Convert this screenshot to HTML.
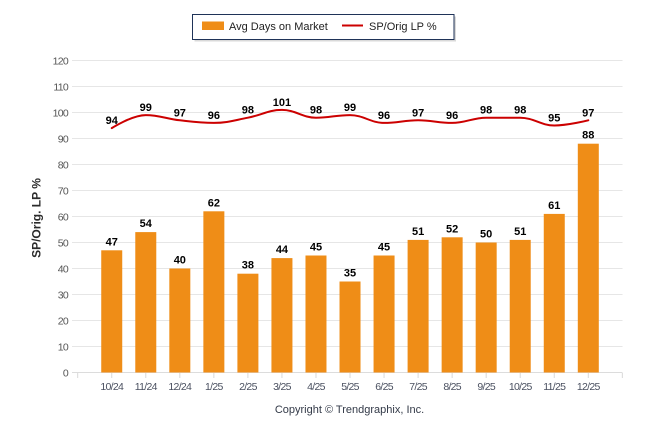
<!DOCTYPE html>
<html>
<head>
<meta charset="utf-8">
<style>
  html, body { margin: 0; padding: 0; background: #ffffff; }
  body { width: 646px; height: 434px; overflow: hidden; }
  svg { display: block; font-family: "Liberation Sans", Arial, sans-serif; }
</style>
</head>
<body>
<svg width="646" height="434" viewBox="0 0 646 434" xmlns="http://www.w3.org/2000/svg">
  <rect x="0" y="0" width="646" height="434" fill="#ffffff"/>

  <!-- Gridlines -->
  <g stroke="#e6e6e6" stroke-width="1">
    <line x1="72" y1="60.5" x2="622.5" y2="60.5"/>
    <line x1="72" y1="86.5" x2="622.5" y2="86.5"/>
    <line x1="72" y1="112.5" x2="622.5" y2="112.5"/>
    <line x1="72" y1="138.5" x2="622.5" y2="138.5"/>
    <line x1="72" y1="164.5" x2="622.5" y2="164.5"/>
    <line x1="72" y1="190.5" x2="622.5" y2="190.5"/>
    <line x1="72" y1="216.5" x2="622.5" y2="216.5"/>
    <line x1="72" y1="242.5" x2="622.5" y2="242.5"/>
    <line x1="72" y1="268.5" x2="622.5" y2="268.5"/>
    <line x1="72" y1="294.5" x2="622.5" y2="294.5"/>
    <line x1="72" y1="320.5" x2="622.5" y2="320.5"/>
    <line x1="72" y1="346.5" x2="622.5" y2="346.5"/>
  </g>
  <!-- X axis line -->
  <line x1="72" y1="372.5" x2="622.5" y2="372.5" stroke="#dcdcdc" stroke-width="1"/>

  <!-- X ticks -->
  <g stroke="#d8d8d8" stroke-width="1">
    <line x1="77.7" y1="373" x2="77.7" y2="378"/>
    <line x1="111.74" y1="373" x2="111.74" y2="378"/>
    <line x1="145.78" y1="373" x2="145.78" y2="378"/>
    <line x1="179.82" y1="373" x2="179.82" y2="378"/>
    <line x1="213.86" y1="373" x2="213.86" y2="378"/>
    <line x1="247.9" y1="373" x2="247.9" y2="378"/>
    <line x1="281.94" y1="373" x2="281.94" y2="378"/>
    <line x1="315.98" y1="373" x2="315.98" y2="378"/>
    <line x1="350.02" y1="373" x2="350.02" y2="378"/>
    <line x1="384.06" y1="373" x2="384.06" y2="378"/>
    <line x1="418.1" y1="373" x2="418.1" y2="378"/>
    <line x1="452.14" y1="373" x2="452.14" y2="378"/>
    <line x1="486.18" y1="373" x2="486.18" y2="378"/>
    <line x1="520.22" y1="373" x2="520.22" y2="378"/>
    <line x1="554.26" y1="373" x2="554.26" y2="378"/>
    <line x1="588.3" y1="373" x2="588.3" y2="378"/>
    <line x1="622.34" y1="373" x2="622.34" y2="378"/>
  </g>

  <!-- Y axis labels -->
  <g font-size="10.5" fill="#555555" text-anchor="end" letter-spacing="-0.7">
    <text x="68" y="64.3">120</text>
    <text x="68" y="90.3">110</text>
    <text x="68" y="116.3">100</text>
    <text x="68" y="142.3">90</text>
    <text x="68" y="168.3">80</text>
    <text x="68" y="194.3">70</text>
    <text x="68" y="220.3">60</text>
    <text x="68" y="246.3">50</text>
    <text x="68" y="272.3">40</text>
    <text x="68" y="298.3">30</text>
    <text x="68" y="324.3">20</text>
    <text x="68" y="350.3">10</text>
    <text x="68" y="376.3">0</text>
  </g>

  <!-- Y axis title -->
  <text x="0" y="0" font-size="12" font-weight="bold" fill="#2b2b2b" text-anchor="middle"
        transform="translate(40.5,218) rotate(-90)">SP/Orig. LP %</text>

  <!-- X axis labels -->
  <g font-size="10.5" fill="#4a5060" text-anchor="middle" letter-spacing="-0.7">
    <text x="111.74" y="390">10/24</text>
    <text x="145.78" y="390">11/24</text>
    <text x="179.82" y="390">12/24</text>
    <text x="213.86" y="390">1/25</text>
    <text x="247.9" y="390">2/25</text>
    <text x="281.94" y="390">3/25</text>
    <text x="315.98" y="390">4/25</text>
    <text x="350.02" y="390">5/25</text>
    <text x="384.06" y="390">6/25</text>
    <text x="418.1" y="390">7/25</text>
    <text x="452.14" y="390">8/25</text>
    <text x="486.18" y="390">9/25</text>
    <text x="520.22" y="390">10/25</text>
    <text x="554.26" y="390">11/25</text>
    <text x="588.3" y="390">12/25</text>
  </g>

  <!-- Bars -->
  <g fill="#EF8D17">
    <rect x="101.24" y="250.3" width="21" height="122.2"/>
    <rect x="135.28" y="232.1" width="21" height="140.4"/>
    <rect x="169.32" y="268.5" width="21" height="104"/>
    <rect x="203.36" y="211.3" width="21" height="161.2"/>
    <rect x="237.4" y="273.7" width="21" height="98.8"/>
    <rect x="271.44" y="258.1" width="21" height="114.4"/>
    <rect x="305.48" y="255.5" width="21" height="117"/>
    <rect x="339.52" y="281.5" width="21" height="91"/>
    <rect x="373.56" y="255.5" width="21" height="117"/>
    <rect x="407.6" y="239.9" width="21" height="132.6"/>
    <rect x="441.64" y="237.3" width="21" height="135.2"/>
    <rect x="475.68" y="242.5" width="21" height="130"/>
    <rect x="509.72" y="239.9" width="21" height="132.6"/>
    <rect x="543.76" y="213.9" width="21" height="158.6"/>
    <rect x="577.8" y="143.7" width="21" height="228.8"/>
  </g>

  <!-- Bar labels -->
  <g font-size="11" font-weight="bold" fill="#000000" text-anchor="middle">
    <text x="111.74" y="245.3">47</text>
    <text x="145.78" y="227.1">54</text>
    <text x="179.82" y="263.5">40</text>
    <text x="213.86" y="206.3">62</text>
    <text x="247.9" y="268.7">38</text>
    <text x="281.94" y="253.1">44</text>
    <text x="315.98" y="250.5">45</text>
    <text x="350.02" y="276.5">35</text>
    <text x="384.06" y="250.5">45</text>
    <text x="418.1" y="234.9">51</text>
    <text x="452.14" y="232.3">52</text>
    <text x="486.18" y="237.5">50</text>
    <text x="520.22" y="234.9">51</text>
    <text x="554.26" y="208.9">61</text>
    <text x="588.3" y="138.7">88</text>
  </g>

  <!-- Spline line -->
  <path fill="none" stroke="#CC0000" stroke-width="2" stroke-linejoin="round" stroke-linecap="round"
    d="M 111.74 128.1
       C 111.74 128.1, 132.16 115.1, 145.78 115.1
       C 159.4 115.1, 166.2 118.74, 179.82 120.3
       C 193.44 121.86, 200.24 122.9, 213.86 122.9
       C 227.48 122.9, 234.28 120.3, 247.9 117.7
       C 261.52 115.1, 268.32 109.9, 281.94 109.9
       C 295.56 109.9, 302.36 117.7, 315.98 117.7
       C 329.6 117.7, 336.4 115.1, 350.02 115.1
       C 363.64 115.1, 370.44 122.9, 384.06 122.9
       C 397.68 122.9, 404.48 120.3, 418.1 120.3
       C 431.72 120.3, 438.52 122.9, 452.14 122.9
       C 465.76 122.9, 472.56 117.7, 486.18 117.7
       C 499.8 117.7, 506.6 117.7, 520.22 117.7
       C 533.84 117.7, 540.64 125.5, 554.26 125.5
       C 567.88 125.5, 588.3 120.3, 588.3 120.3"/>

  <!-- Line labels -->
  <g font-size="11" font-weight="bold" fill="#000000" text-anchor="middle">
    <text x="111.74" y="124.1">94</text>
    <text x="145.78" y="111.1">99</text>
    <text x="179.82" y="116.3">97</text>
    <text x="213.86" y="118.9">96</text>
    <text x="247.9" y="113.7">98</text>
    <text x="281.94" y="105.9">101</text>
    <text x="315.98" y="113.7">98</text>
    <text x="350.02" y="111.1">99</text>
    <text x="384.06" y="118.9">96</text>
    <text x="418.1" y="116.3">97</text>
    <text x="452.14" y="118.9">96</text>
    <text x="486.18" y="113.7">98</text>
    <text x="520.22" y="113.7">98</text>
    <text x="554.26" y="121.5">95</text>
    <text x="588.3" y="116.3">97</text>
  </g>

  <!-- Legend -->
  <rect x="194.5" y="16.5" width="261.5" height="25" fill="#bfbfbf" opacity="0.6"/>
  <rect x="192.5" y="14.5" width="261.5" height="25" fill="#ffffff" stroke="#1f3358" stroke-width="1"/>
  <rect x="202" y="21.5" width="22" height="8.5" fill="#EF8D17"/>
  <text x="229" y="30" font-size="11" fill="#222222">Avg Days on Market</text>
  <line x1="342" y1="25.5" x2="363" y2="25.5" stroke="#CC0000" stroke-width="2"/>
  <text x="369" y="30" font-size="11" fill="#222222">SP/Orig LP %</text>

  <!-- Credit -->
  <text x="349.5" y="413" font-size="11" fill="#333a48" text-anchor="middle">Copyright © Trendgraphix, Inc.</text>
</svg>
</body>
</html>
